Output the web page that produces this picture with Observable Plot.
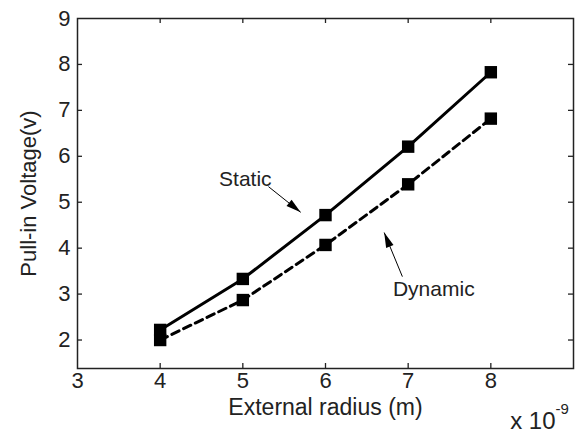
<!DOCTYPE html>
<html><head><meta charset="utf-8">
<script src="https://cdn.jsdelivr.net/npm/d3@7"></script>
<script src="https://cdn.jsdelivr.net/npm/@observablehq/plot@0.6"></script>
<style>body{margin:0;background:#fff}#c{position:relative;width:576px;height:435px}</style>
</head><body><div id="c"></div>
<script>
const radius = [4, 5, 6, 7, 8];
const staticV = [2.22, 3.33, 4.72, 6.21, 7.83];
const dynamicV = [2.0, 2.87, 4.07, 5.39, 6.82];
const xTicks = [3, 4, 5, 6, 7, 8, 9];
const xTickLabels = [3, 4, 5, 6, 7, 8];
const yTicks = [2, 3, 4, 5, 6, 7, 8, 9];
const labels = [
  {text: "Static", x: 5.03, y: 5.51},
  {text: "Dynamic", x: 7.31, y: 3.10}
];
const arrows = [
  {x1: 5.31, y1: 5.34, x2: 5.70, y2: 4.78, rot: 129},
  {x1: 6.93, y1: 3.38, x2: 6.71, y2: 4.34, rot: -22}
];

const st = radius.map((x, i) => ({x, y: staticV[i]}));
const dy = radius.map((x, i) => ({x, y: dynamicV[i]}));
const font = "Liberation Sans, Arial, sans-serif";
const headSymbol = {draw(ctx) { ctx.moveTo(0, 0); ctx.lineTo(-4, 15); ctx.lineTo(4, 15); ctx.closePath(); }};

const chart = Plot.plot({
  width: 576, height: 435,
  marginLeft: 77, marginRight: 3, marginTop: 18, marginBottom: 67,
  style: {fontFamily: font, background: "#fff", color: "#222", fontSize: "22px"},
  x: {domain: [3, 9], axis: null},
  y: {domain: [1.38, 9], axis: null},
  marks: [
    Plot.frame({stroke: "#222", strokeWidth: 1.5}),
    Plot.tickX(xTicks.slice(1, -1), {x: d => d, stroke: "#222", insetTop: 345, strokeWidth: 1.3}),
    Plot.tickX(xTicks.slice(1, -1), {x: d => d, stroke: "#222", insetBottom: 345, strokeWidth: 1.3}),
    Plot.tickY(yTicks.slice(0, -1), {y: d => d, stroke: "#222", insetRight: 491, strokeWidth: 1.3}),
    Plot.tickY(yTicks.slice(0, -1), {y: d => d, stroke: "#222", insetLeft: 491, strokeWidth: 1.3}),
    Plot.text(xTickLabels, {x: d => d, text: d => String(d), frameAnchor: "bottom", dy: 19, fontSize: 22, fill: "#222"}),
    Plot.text(yTicks, {y: d => d, text: d => String(d), frameAnchor: "left", dx: -7, textAnchor: "end", fontSize: 22, fill: "#222"}),
    Plot.text(["External radius (m)"], {text: d => d, frameAnchor: "bottom", dy: 46, textAnchor: "middle", fontSize: 23, fill: "#222"}),
    Plot.text(["Pull-in Voltage(v)"], {text: d => d, frameAnchor: "left", dx: -49, rotate: -90, textAnchor: "middle", fontSize: 22, fill: "#222"}),
    Plot.line(st, {x: "x", y: "y", stroke: "black", strokeWidth: 3}),
    Plot.line(dy, {x: "x", y: "y", stroke: "black", strokeWidth: 3, strokeDasharray: "8,5"}),
    Plot.dot(st, {x: "x", y: "y", symbol: "square", r: 7, fill: "black"}),
    Plot.dot(dy, {x: "x", y: "y", symbol: "square", r: 7, fill: "black"}),
    Plot.link(arrows, {x1: "x1", y1: "y1", x2: "x2", y2: "y2", stroke: "black", strokeWidth: 1}),
    Plot.dot(arrows, {x: "x2", y: "y2", symbol: headSymbol, rotate: "rot", fill: "black", stroke: "none"}),
    Plot.text(labels, {x: "x", y: "y", text: "text", fontSize: 21, fill: "#222"}),
    Plot.text(["x 10"], {frameAnchor: "bottom-right", text: d => d, dx: -18, dy: 60, textAnchor: "end", fontSize: 24, fill: "#222"}),
    Plot.text(["-9"], {frameAnchor: "bottom-right", text: d => d, dx: -18, dy: 45, textAnchor: "start", fontSize: 15, fill: "#222"})
  ]
});
document.getElementById("c").appendChild(chart);
</script></body></html>
